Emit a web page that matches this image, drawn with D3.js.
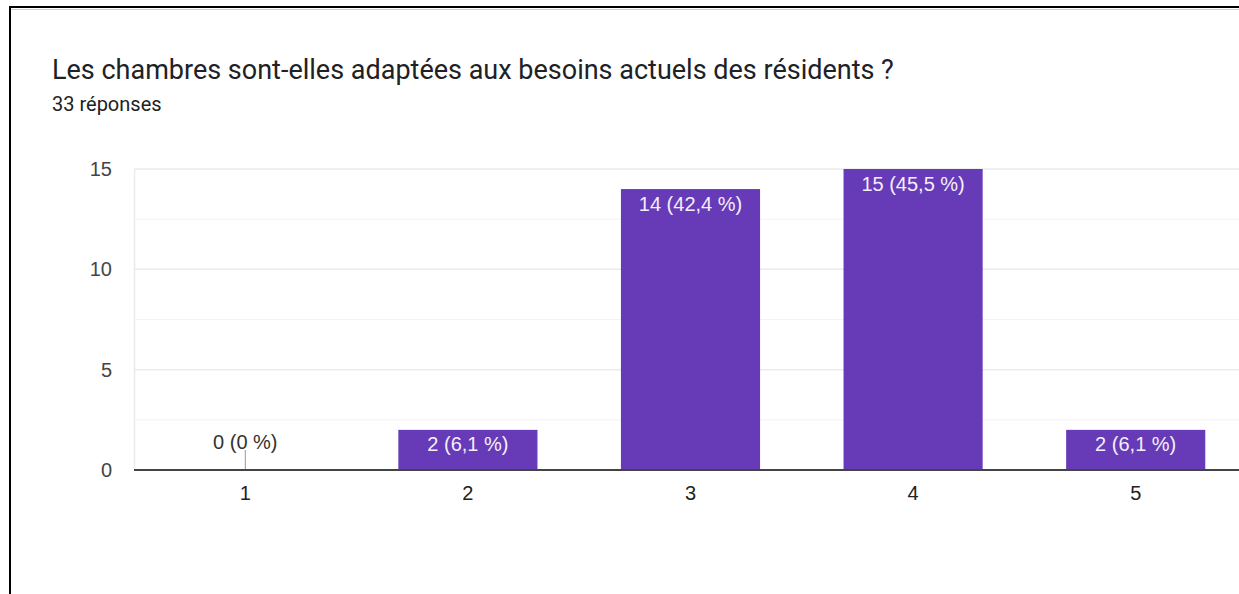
<!DOCTYPE html>
<html>
<head>
<meta charset="utf-8">
<script src="https://cdn.jsdelivr.net/npm/d3@7"></script>
<style>
  html, body { margin: 0; padding: 0; background: #fff; }
  svg { display: block; font-family: Roboto, "Noto Sans", Arial, sans-serif; }
</style>
</head>
<body>
<svg id="chart" width="1239" height="594"></svg>
<script>
// Survey question and answer counts
const title = "Les chambres sont-elles adaptées aux besoins actuels des résidents ?";
const subtitle = "33 réponses";
const categories = ["1", "2", "3", "4", "5"];
const counts = [0, 2, 14, 15, 2];
const percents = ["0", "6,1", "42,4", "45,5", "6,1"];
const yTicks = [0, 5, 10, 15];
const yMinorTicks = [2.5, 7.5, 12.5];

const chartFont = "'Liberation Sans', Arial, sans-serif";
const svg = d3.select("#chart");

// Card frame
svg.append("rect").attr("x", 10).attr("y", 7).attr("width", 1240).attr("height", 600)
  .attr("fill", "#fff").attr("stroke", "#000").attr("stroke-width", 2);
svg.append("line").attr("x1", 11).attr("x2", 1239).attr("y1", 9.5).attr("y2", 9.5)
  .attr("stroke", "#d0d0d0").attr("stroke-width", 1);

svg.append("text").attr("x", 52).attr("y", 79)
  .attr("font-size", 27).attr("fill", "#202124").text(title);
svg.append("text").attr("x", 52).attr("y", 111)
  .attr("font-size", 20).attr("fill", "#202124").text(subtitle);

const x = d3.scaleBand().domain(categories).range([134, 1247])
  .paddingInner(0.375).paddingOuter(0.1875);
const y = d3.scaleLinear().domain([0, 15]).range([470, 169]);

// Gridlines
const grid = svg.append("g");
grid.selectAll("line.minor").data(yMinorTicks).join("line")
  .attr("class", "minor")
  .attr("x1", 134).attr("x2", 1239)
  .attr("y1", d => y(d)).attr("y2", d => y(d))
  .attr("stroke", "#f3f3f3").attr("stroke-width", 1);
grid.selectAll("line.major").data(yTicks.filter(d => d > 0)).join("line")
  .attr("class", "major")
  .attr("x1", 134).attr("x2", 1239)
  .attr("y1", d => y(d)).attr("y2", d => y(d))
  .attr("stroke", "#ebebeb").attr("stroke-width", 1.5);
grid.append("line").attr("x1", 134.5).attr("x2", 134.5)
  .attr("y1", y(15)).attr("y2", y(0))
  .attr("stroke", "#ebebeb").attr("stroke-width", 1.5);

// Y axis labels
const yAxis = svg.append("g").attr("transform", "translate(112,0)")
  .call(d3.axisLeft(y).tickValues(yTicks).tickSize(0).tickPadding(0));
yAxis.select(".domain").remove();
yAxis.selectAll("text").attr("font-size", 20).attr("fill", "#444")
  .attr("font-family", chartFont);

// Bars
const data = categories.map((c, i) => ({ c, v: counts[i], p: percents[i] }));
svg.append("g").selectAll("rect").data(data.filter(d => d.v > 0)).join("rect")
  .attr("x", d => x(d.c)).attr("width", x.bandwidth())
  .attr("y", d => y(d.v)).attr("height", d => y(0) - y(d.v))
  .attr("fill", "#673ab7");

// Zero-value marker
svg.append("g").selectAll("line").data(data.filter(d => d.v === 0)).join("line")
  .attr("x1", d => x(d.c) + x.bandwidth() / 2).attr("x2", d => x(d.c) + x.bandwidth() / 2)
  .attr("y1", y(0) - 20).attr("y2", y(0))
  .attr("stroke", "#999").attr("stroke-width", 1);

// Value labels
svg.append("g").selectAll("text").data(data).join("text")
  .attr("x", d => x(d.c) + x.bandwidth() / 2)
  .attr("y", d => d.v > 0 ? y(d.v) + 21.5 : y(0) - 21)
  .attr("text-anchor", "middle").attr("font-size", 20)
  .attr("font-family", chartFont)
  .attr("fill", d => d.v > 0 ? "#f3effa" : "#333")
  .text(d => `${d.v} (${d.p} %)`);

// X axis
const xAxis = svg.append("g").attr("transform", `translate(0,${y(0)})`)
  .call(d3.axisBottom(x).tickSize(0).tickPadding(16));
xAxis.select(".domain").remove();
xAxis.selectAll("text").attr("font-size", 20).attr("fill", "#222")
  .attr("font-family", chartFont);
svg.append("line").attr("x1", 134).attr("x2", 1239)
  .attr("y1", y(0)).attr("y2", y(0))
  .attr("stroke", "#444").attr("stroke-width", 2);
</script>
</body>
</html>
